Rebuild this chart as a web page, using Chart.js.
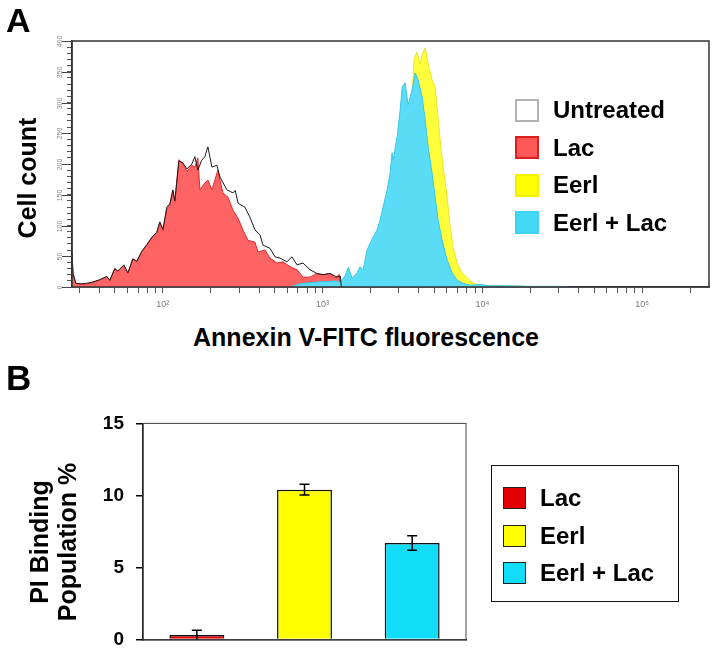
<!DOCTYPE html>
<html><head><meta charset="utf-8">
<script src="https://cdn.jsdelivr.net/npm/chart.js@4/dist/chart.umd.min.js"></script>
<style>
body{margin:0;width:718px;height:663px;position:relative;background:#fff;font-family:"Liberation Sans",Arial,sans-serif;overflow:hidden}
.t{position:absolute;font-weight:bold;color:#000;white-space:nowrap}
canvas{position:absolute;left:0}
#ca{top:0}
#cb{top:400px}
.li{position:absolute;height:24px;display:flex;align-items:center;font-weight:bold;font-size:24px;white-space:nowrap}
.sw{box-sizing:border-box;flex:none}
#legB{position:absolute;left:491px;top:465px;width:188px;height:137px;box-sizing:border-box;border:1.5px solid #111}
</style>
</head><body>
<canvas id="ca" width="718" height="320"></canvas>
<canvas id="cb" width="718" height="263"></canvas>
<div class="t" style="left:6px;top:3px;font-size:34px;line-height:34px">A</div>
<div class="t" style="left:6px;top:360px;font-size:35px;line-height:35px">B</div>
<div class="t" style="left:-73px;top:163px;width:200px;height:30px;line-height:30px;font-size:25px;text-align:center;transform:rotate(-90deg)">Cell count</div>
<div class="t" style="left:166px;top:322px;width:400px;height:30px;line-height:30px;font-size:25px;text-align:center">Annexin V-FITC fluorescence</div>
<div class="t" style="left:-47px;top:514px;width:200px;height:56px;line-height:28px;font-size:25px;text-align:center;transform:rotate(-90deg)">PI Binding<br>Population %</div>
<div id="legA"></div>
<div id="legB"></div>
<script>
// ---------- Panel A data (fluorescence, cell count) ----------
const histNames = ['Untreated', 'Lac', 'Eerl', 'Eerl + Lac'];
const untreatedData = [[27,55],[27.4,22],[28.5,6],[31,5],[33.4,6],[36.4,8],[40.3,12],[44.6,17],[46.6,11],[50,30],[52.3,26],[57,36],[60.4,23],[64.9,46],[68.7,42],[73.8,58],[79.4,69],[85.3,81],[91.6,89],[95.7,106],[100,94],[106,130],[110.6,135],[115.5,158],[118.9,140],[126,205],[133.4,202],[141.3,192],[152,200],[158.6,212],[165.6,190],[175,206],[183.3,212],[191.4,228],[202.8,195],[218,198],[227.5,179],[251.8,158],[274.6,153],[284,157],[296,136],[326,130],[350,114],[377,93],[405,85],[424,68],[468,63],[504,49],[541,47],[598,41],[643,49],[692,36],[754,39],[834,28],[922,22],[1006,20],[1112,22],[1232,16],[1290,18],[1310,0]];
const lacData = [[27,55],[27.4,22],[28.5,6],[31,5],[33.4,5],[36.4,8],[40.3,11],[44.6,17],[46.6,10],[50,30],[52.3,25],[57,35],[60.4,22],[64.9,45],[68.7,41],[73.8,57],[79.4,68],[85.3,80],[91.6,88],[95.7,105],[100,91],[106,127],[110.6,133],[115.5,157],[118.9,138],[126,207],[133.4,200],[141.3,188],[152,198],[158.6,195],[165.6,210],[170.6,158],[183.3,169],[191.4,174],[202.8,158],[221,190],[237.7,153],[255.5,146],[274.6,125],[295.2,112],[317,93],[341,76],[377,73],[394,57],[436,60],[468,47],[518,39],[565,41],[625,33],[692,28],[754,16],[834,16],[922,22],[1006,20],[1112,22],[1197,15],[1270,20],[1300,0]];
const eerlData = [[700,0],[1006,5],[1300,7],[1600,12],[1900,30],[2100,55],[2300,80],[2500,110],[2700,150],[2900,200],[3100,250],[3300,285],[3450,290],[3600,305],[3750,372],[3900,382],[4075,362],[4198,378],[4385,389],[4575,364],[4847,337],[5061,325],[5207,293],[5442,239],[5681,195],[6018,146],[6284,98],[6561,65],[6950,39],[7468,23],[8030,15],[8755,6],[9683,3],[12000,2],[20000,1],[30000,0]];
const eerlLacData = [[640,0],[692,4],[754,6],[834,7],[922,8],[1006,9],[1112,9],[1197,10],[1286,8],[1381,18],[1450,32],[1530,14],[1643,23],[1716,33],[1793,28],[1898,60],[1982,71],[2070,81],[2193,93],[2291,109],[2389,130],[2535,158],[2643,185],[2722,218],[2762,206],[2926,244],[3057,288],[3148,325],[3283,332],[3428,296],[3633,320],[3793,348],[3960,337],[4198,309],[4385,272],[4575,228],[4847,185],[5061,146],[5285,109],[5599,76],[6018,44],[6467,23],[6950,11],[7581,6],[8391,3],[9683,4],[11190,2],[14930,2],[19910,1],[30690,1],[35000,0]];
const histSeries = [untreatedData, lacData, eerlData, eerlLacData];
const yTickValuesA = [0, 50, 100, 150, 200, 250, 300, 350, 400];
const xTickDecades = [100, 1000, 10000, 100000];
const xTickTexts = ['10²', '10³', '10⁴', '10⁵'];

// ---------- Panel B data ----------
const barCategories = ['Lac', 'Eerl', 'Eerl + Lac'];
const barValues = [0.32, 10.4, 6.7];
const barErrors = [0.33, 0.37, 0.5];
const barTicks = [0, 5, 10, 15];

// ---------- styles ----------
const FONT = '"Liberation Sans", Arial, sans-serif';
const histStyle = [
  {fill: false, bg: 'rgba(0,0,0,0)', stroke: '#1a1a1a', width: 1, order: 0, legFill: '#fff', legStroke: '#b3b3b3'},
  {fill: 'origin', bg: '#ff6363', stroke: '#e8262b', width: 1, order: 2, legFill: '#ff5858', legStroke: '#de1d1d'},
  {fill: 'origin', bg: '#ffff3c', stroke: '#e9e52c', width: 1, order: 3, legFill: '#ffff00', legStroke: '#f2f200'},
  {fill: 'origin', bg: '#5bdcf6', stroke: '#38c7ea', width: 1, order: 1, legFill: '#44d8f8', legStroke: '#3fd3f3'}
];
const barFills = ['#e20000', '#ffff00', '#12ddf8'];

// x minor tick positions for the log axis (axis decoration)
const xMinorTicks = [];
for (let d = 1; d <= 5; d++) for (let m = 1; m <= 9; m++) {
  const v = m * Math.pow(10, d);
  if (v >= 27 && v <= 262144) xMinorTicks.push(v);
}

const frame = (color, w) => ({
  id: 'frame' + color,
  afterDatasetsDraw(c) {
    const a = c.chartArea, ctx = c.ctx;
    ctx.save(); ctx.strokeStyle = color; ctx.lineWidth = w;
    ctx.strokeRect(a.left, a.top, a.right - a.left, a.bottom - a.top);
    ctx.restore();
  }
});

const yLabelsA = {
  id: 'ylabA',
  afterDraw(c) {
    const y = c.scales.y, ctx = c.ctx;
    ctx.save();
    ctx.fillStyle = '#8a8a8a'; ctx.strokeStyle = '#444'; ctx.lineWidth = 1;
    ctx.font = '7px ' + FONT; ctx.textAlign = 'center'; ctx.textBaseline = 'middle';
    yTickValuesA.forEach(v => {
      const py = Math.round(y.getPixelForValue(v)) + 0.5;
      ctx.beginPath(); ctx.moveTo(y.right - 10, py); ctx.lineTo(y.right, py); ctx.stroke();
      ctx.save(); ctx.translate(y.right - 12, py); ctx.rotate(-Math.PI / 2);
      ctx.fillText(String(v), 0, 0); ctx.restore();
    });
    ctx.restore();
  }
};

new Chart(document.getElementById('ca'), {
  type: 'line',
  data: {
    datasets: histNames.map((n, i) => ({
      label: n,
      data: histSeries[i].map(p => ({x: p[0], y: p[1]})),
      fill: histStyle[i].fill,
      backgroundColor: histStyle[i].bg,
      borderColor: histStyle[i].stroke,
      borderWidth: histStyle[i].width,
      order: histStyle[i].order,
      pointRadius: 0,
      tension: 0
    }))
  },
  options: {
    responsive: false, animation: false, events: [],
    layout: {padding: {top: 41, right: 9, left: 0, bottom: 0}},
    plugins: {legend: {display: false}, tooltip: {enabled: false}},
    scales: {
      x: {
        type: 'logarithmic', min: 27, max: 262144,
        afterBuildTicks: s => { s.ticks = xMinorTicks.map(v => ({value: v})); },
        afterFit: s => { s.height = 33; },
        grid: {drawOnChartArea: false, tickLength: 6, color: '#555'},
        border: {color: '#333', width: 1.5},
        ticks: {
          autoSkip: false, maxRotation: 0, minRotation: 0, color: '#777', padding: 6,
          font: {size: 9, family: FONT},
          callback: v => { const k = xTickDecades.indexOf(v); return k >= 0 ? xTickTexts[k] : ''; }
        }
      },
      y: {
        min: 0, max: 400,
        ticks: {stepSize: 10, display: false, autoSkip: false},
        afterFit: s => { s.width = 72; },
        grid: {drawOnChartArea: false, tickLength: 5, color: '#555'},
        border: {color: '#333', width: 1.5}
      }
    }
  },
  plugins: [frame('#333', 1.5), yLabelsA]
});

// legend A (HTML, built from series names and styles)
const legA = document.getElementById('legA');
histNames.forEach((n, i) => {
  const d = document.createElement('div');
  d.className = 'li';
  d.style.left = '515px'; d.style.top = (98 + i * 37.5) + 'px';
  d.innerHTML = '<span class="sw" style="width:24px;height:23px;margin-right:14px;background:' + histStyle[i].legFill +
    ';border:2px solid ' + histStyle[i].legStroke + '"></span><span>' + n + '</span>';
  legA.appendChild(d);
});

const errorBars = {
  id: 'err',
  afterDatasetsDraw(c) {
    const meta = c.getDatasetMeta(0), y = c.scales.y, ctx = c.ctx;
    ctx.save(); ctx.strokeStyle = '#000'; ctx.lineWidth = 1.5;
    meta.data.forEach((bar, i) => {
      const top = y.getPixelForValue(barValues[i] + barErrors[i]);
      const bot = y.getPixelForValue(Math.max(0, barValues[i] - barErrors[i]));
      ctx.beginPath();
      ctx.moveTo(bar.x, top); ctx.lineTo(bar.x, bot);
      ctx.moveTo(bar.x - 5, top); ctx.lineTo(bar.x + 5, top);
      if (barValues[i] - barErrors[i] > 0) { ctx.moveTo(bar.x - 5, bot); ctx.lineTo(bar.x + 5, bot); }
      ctx.stroke();
    });
    ctx.restore();
  }
};

new Chart(document.getElementById('cb'), {
  type: 'bar',
  data: {
    labels: barCategories,
    datasets: [{
      data: barValues, backgroundColor: barFills, borderColor: '#111', borderWidth: 1.5,
      borderSkipped: 'start', barPercentage: 0.51, categoryPercentage: 1
    }]
  },
  options: {
    responsive: false, animation: false, events: [],
    layout: {padding: {top: 23, right: 252, left: 0, bottom: 0}},
    plugins: {legend: {display: false}, tooltip: {enabled: false}},
    scales: {
      x: {
        ticks: {display: false}, grid: {display: false},
        border: {color: '#000', width: 1.5},
        afterFit: s => { s.height = 11; }
      },
      y: {
        min: 0, max: 15,
        afterBuildTicks: s => { s.ticks = barTicks.map(v => ({value: v})); },
        ticks: {color: '#000', padding: 12, font: {size: 19, weight: 'bold', family: FONT}},
        grid: {drawOnChartArea: false, tickLength: 7, color: '#000', lineWidth: 1.5},
        border: {color: '#000', width: 1.5},
        afterFit: s => { s.width = 143; }
      }
    }
  },
  plugins: [frame('#444', 1), errorBars]
});

// legend B
const legB = document.getElementById('legB');
barCategories.forEach((n, i) => {
  const d = document.createElement('div');
  d.className = 'li';
  d.style.left = '11px'; d.style.top = (20 + i * 37.5) + 'px';
  d.innerHTML = '<span class="sw" style="width:23px;height:22px;margin-right:14px;background:' + barFills[i] +
    ';border:1.5px solid #222"></span><span>' + n + '</span>';
  legB.appendChild(d);
});
</script>
</body></html>
